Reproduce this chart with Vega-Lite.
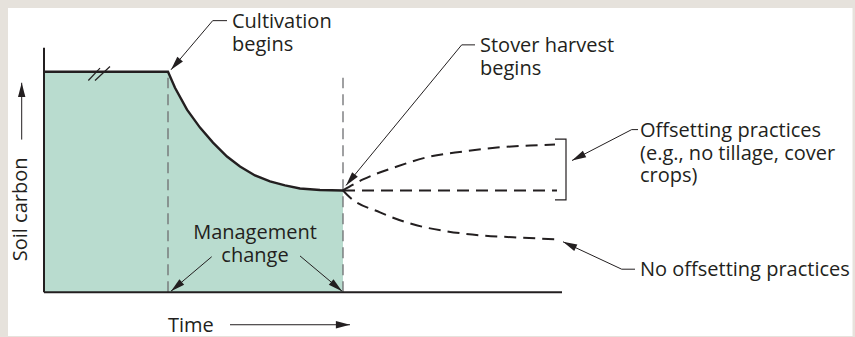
{
  "$schema": "https://vega.github.io/schema/vega-lite/v6.json",
  "width": 855,
  "height": 337,
  "autosize": {"type": "fit", "contains": "padding"},
  "padding": 0,
  "background": "#e6e2dc",
  "config": {"view": {"stroke": null}},
  "datasets": {
    "profile": [
      {"t": 0, "c": 100}, {"t": 24.8, "c": 100}, {"t": 26.2, "c": 92.76}, {"t": 28.6, "c": 82.81},
      {"t": 31.2, "c": 74.66}, {"t": 33.8, "c": 67.87}, {"t": 36.6, "c": 61.54}, {"t": 39.2, "c": 57.01},
      {"t": 42.2, "c": 52.94}, {"t": 45.2, "c": 50.23}, {"t": 48.2, "c": 48.42}, {"t": 51.2, "c": 47.06},
      {"t": 55.2, "c": 46.38}, {"t": 59.8, "c": 46.15}
    ],
    "scenarios": [
      {"s": "offset", "t": 59.8, "c": 46.15}, {"s": "offset", "t": 63.8, "c": 51.13}, {"s": "offset", "t": 70.6, "c": 57.01},
      {"s": "offset", "t": 77.2, "c": 61.54}, {"s": "offset", "t": 83.8, "c": 63.8}, {"s": "offset", "t": 90.6, "c": 65.61},
      {"s": "offset", "t": 97.2, "c": 66.52}, {"s": "offset", "t": 102.2, "c": 66.97},
      {"s": "flat", "t": 59.8, "c": 46.15}, {"s": "flat", "t": 102.6, "c": 46.15},
      {"s": "none", "t": 59.8, "c": 46.15}, {"s": "none", "t": 61.2, "c": 42.99}, {"s": "none", "t": 67.2, "c": 36.2},
      {"s": "none", "t": 73.8, "c": 30.77}, {"s": "none", "t": 80.6, "c": 27.6}, {"s": "none", "t": 87.2, "c": 25.79},
      {"s": "none", "t": 93.8, "c": 24.89}, {"s": "none", "t": 102.6, "c": 23.98}
    ],
    "bracket": [
      {"o": 1, "t": 102.2, "c": 69.46}, {"o": 2, "t": 104.4, "c": 69.46},
      {"o": 3, "t": 104.4, "c": 41.86}, {"o": 4, "t": 102.2, "c": 41.86}
    ],
    "axes": [
      {"t": 0, "c": 0, "t2": 0, "c2": 110.86},
      {"t": 0, "c": 0, "t2": 103.6, "c2": 0}
    ],
    "breaks": [
      {"t": 8.86, "c": 96.06, "t2": 11.2, "c2": 101.67},
      {"t": 10.2, "c": 96.06, "t2": 13.2, "c2": 102.4}
    ],
    "markers": [
      {"t": 24.8, "c": 0, "c2": 97.29},
      {"t": 59.8, "c": 0, "c2": 97.29}
    ],
    "leaders": [
      {"t": 33.74, "c": 123.21, "t2": 36.6, "c2": 123.21},
      {"t": 33.74, "c": 123.21, "t2": 25.4, "c2": 100.9},
      {"t": 83.54, "c": 112.22, "t2": 86.2, "c2": 112.22},
      {"t": 83.54, "c": 112.22, "t2": 60.4, "c2": 48.42},
      {"t": 117.54, "c": 73.76, "t2": 118.8, "c2": 73.76},
      {"t": 117.54, "c": 73.76, "t2": 105.6, "c2": 59.73},
      {"t": 115.54, "c": 10.41, "t2": 118.2, "c2": 10.41},
      {"t": 115.54, "c": 10.41, "t2": 103.8, "c2": 22.85},
      {"t": 33.54, "c": 16.06, "t2": 25.4, "c2": 0.45},
      {"t": 51.2, "c": 16.43, "t2": 59.6, "c2": 0.45},
      {"t": -4.46, "c": 69.23, "t2": -4.46, "c2": 95.02},
      {"t": 37.2, "c": -14.8, "t2": 61.2, "c2": -14.8}
    ],
    "heads": [
      {"t": 25.4, "c": 100.9, "heading": 220.2},
      {"t": 60.4, "c": 48.42, "heading": 219.4},
      {"t": 105.6, "c": 59.73, "heading": 242.6},
      {"t": 103.8, "c": 22.85, "heading": 295.1},
      {"t": 25.4, "c": 0.45, "heading": 229.7},
      {"t": 59.6, "c": 0.45, "heading": 130},
      {"t": -4.46, "c": 95.02, "heading": 0},
      {"t": 61.2, "c": -14.8, "heading": 90}
    ],
    "labels": [
      {"text": "Cultivation", "t": 37.6, "c": 119.91},
      {"text": "begins", "t": 37.6, "c": 109.5},
      {"text": "Stover harvest", "t": 87.2, "c": 109.05},
      {"text": "begins", "t": 87.2, "c": 98.64},
      {"text": "Offsetting practices", "t": 119.2, "c": 70.59},
      {"text": "(e.g., no tillage, cover", "t": 119.2, "c": 60.18},
      {"text": "crops)", "t": 119.2, "c": 49.77},
      {"text": "No offsetting practices", "t": 119.2, "c": 7.24},
      {"text": "Time", "t": 24.8, "c": -18.24}
    ],
    "centered": [
      {"text": "Management", "t": 42.2, "c": 23.98},
      {"text": "change", "t": 42.2, "c": 13.57}
    ],
    "ylabel": [
      {"text": "Soil carbon", "t": -3.4, "c": 37.56}
    ],
    "panel": [
      {"t": -7.2, "t2": 161.7, "c": -19.91, "c2": 128.96}
    ]
  },
  "encoding": {
    "x": {"field": "t", "type": "quantitative", "axis": null, "scale": {"domain": [-8.8, 162.2], "nice": false, "zero": false}},
    "y": {"field": "c", "type": "quantitative", "axis": null, "scale": {"domain": [-19.91, 132.58], "nice": false, "zero": false}}
  },
  "layer": [
    {
      "data": {"name": "panel"},
      "mark": {"type": "rect", "fill": "#ffffff"},
      "encoding": {"x2": {"field": "t2"}, "y2": {"field": "c2"}}
    },
    {
      "data": {"name": "profile"},
      "mark": {"type": "area", "fill": "#b9dccf", "interpolate": "linear"},
      "encoding": {"y2": {"datum": 0}}
    },
    {
      "data": {"name": "markers"},
      "mark": {"type": "rule", "stroke": "#6d6e71", "strokeWidth": 1.3, "strokeDash": [11, 6]},
      "encoding": {"y2": {"field": "c2"}}
    },
    {
      "data": {"name": "profile"},
      "mark": {"type": "line", "stroke": "#231f20", "strokeWidth": 2.4, "strokeJoin": "miter"},
      "encoding": {}
    },
    {
      "data": {"name": "axes"},
      "mark": {"type": "rule", "stroke": "#231f20", "strokeWidth": 2},
      "encoding": {"x2": {"field": "t2"}, "y2": {"field": "c2"}}
    },
    {
      "data": {"name": "breaks"},
      "mark": {"type": "rule", "stroke": "#231f20", "strokeWidth": 1.2},
      "encoding": {"x2": {"field": "t2"}, "y2": {"field": "c2"}}
    },
    {
      "data": {"name": "scenarios"},
      "mark": {"type": "line", "stroke": "#231f20", "strokeWidth": 2, "strokeDash": [12, 7], "interpolate": "monotone"},
      "encoding": {"detail": {"field": "s"}}
    },
    {
      "data": {"name": "bracket"},
      "mark": {"type": "line", "stroke": "#231f20", "strokeWidth": 1.2},
      "encoding": {"order": {"field": "o"}}
    },
    {
      "data": {"name": "leaders"},
      "mark": {"type": "rule", "stroke": "#231f20", "strokeWidth": 1},
      "encoding": {"x2": {"field": "t2"}, "y2": {"field": "c2"}}
    },
    {
      "data": {"name": "heads"},
      "mark": {"type": "point", "shape": "M0,0L0.26,1L-0.26,1Z", "filled": true, "fill": "#231f20", "opacity": 1, "size": 800, "strokeWidth": 0},
      "encoding": {"angle": {"field": "heading", "type": "quantitative", "scale": null}}
    },
    {
      "data": {"name": "labels"},
      "mark": {"type": "text", "align": "left", "baseline": "alphabetic", "font": "Open Sans", "fontSize": 20, "fill": "#231f20"},
      "encoding": {"text": {"field": "text"}}
    },
    {
      "data": {"name": "centered"},
      "mark": {"type": "text", "align": "center", "baseline": "alphabetic", "font": "Open Sans", "fontSize": 20, "fill": "#231f20"},
      "encoding": {"text": {"field": "text"}}
    },
    {
      "data": {"name": "ylabel"},
      "mark": {"type": "text", "align": "center", "baseline": "alphabetic", "angle": 270, "font": "Open Sans", "fontSize": 20, "fill": "#231f20"},
      "encoding": {"text": {"field": "text"}}
    }
  ]
}
